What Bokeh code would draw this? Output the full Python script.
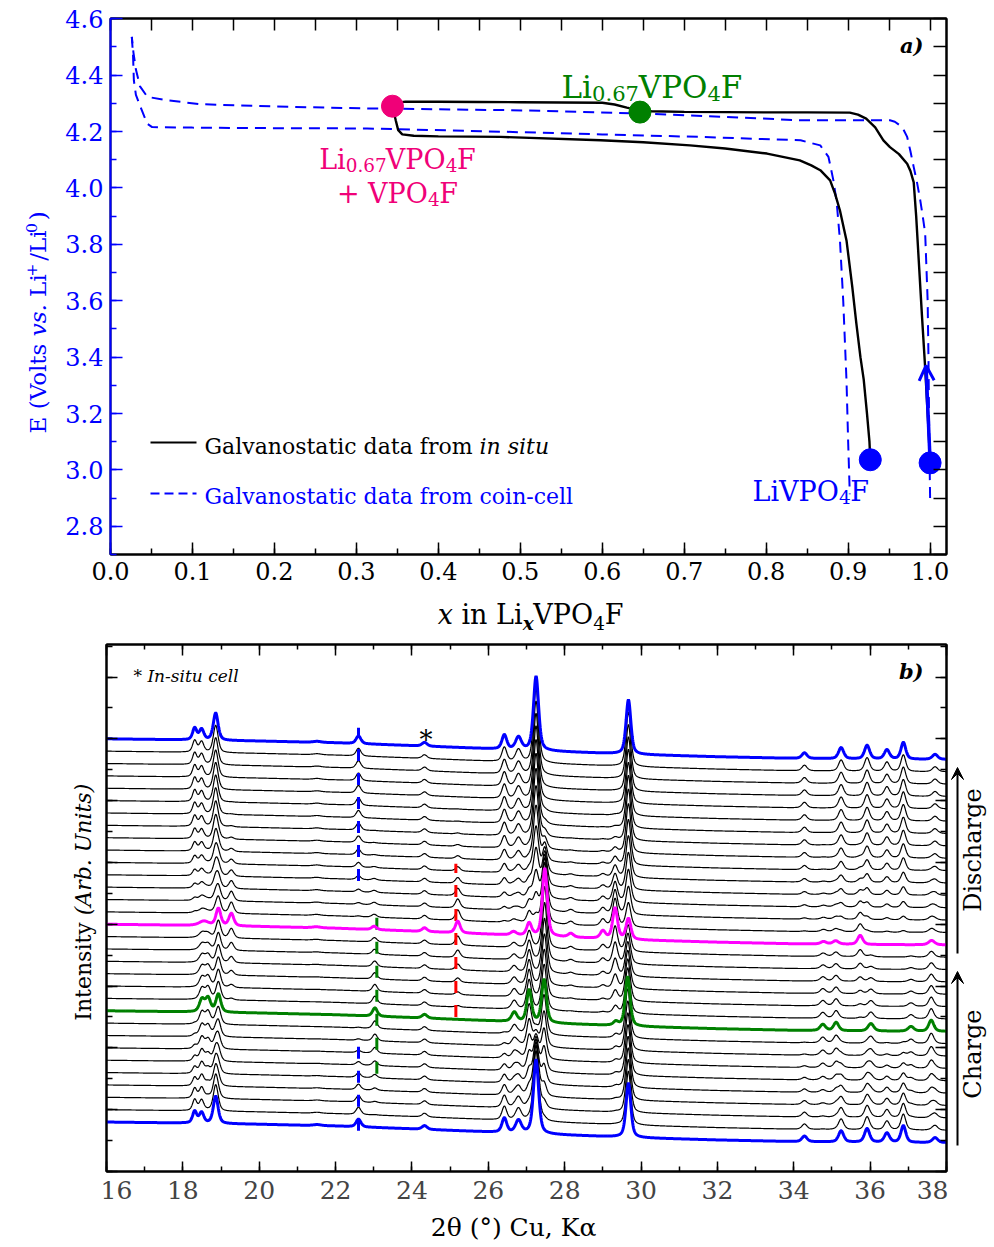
import os, glob
import numpy as np
from bokeh.plotting import figure
from bokeh.layouts import column, row
from bokeh.models import (Label, Arrow, OpenHead, VeeHead, LinearAxis, SingleIntervalTicker,
                          PrintfTickFormatter, CustomJSTickFormatter, Range1d)
from bokeh.embed import file_html
from bokeh.resources import INLINE

# ---------------- Panel a: galvanostatic curves ----------------
insitu_charge_x = [1.000, 0.997, 0.994, 0.990, 0.986, 0.983, 0.980, 0.976, 0.972, 0.962, 0.951,
                   0.943, 0.933, 0.922, 0.912, 0.902, 0.850, 0.800, 0.750, 0.700, 0.660, 0.646,
                   0.630, 0.615, 0.600, 0.550, 0.500, 0.450, 0.400, 0.360, 0.350, 0.344]
insitu_charge_E = [3.03, 3.20, 3.36, 3.55, 3.75, 3.90, 4.02, 4.06, 4.086, 4.120, 4.145,
                   4.169, 4.215, 4.246, 4.260, 4.267, 4.268, 4.268, 4.269, 4.270, 4.272, 4.274,
                   4.285, 4.296, 4.302, 4.303, 4.304, 4.305, 4.306, 4.306, 4.302, 4.290]
insitu_dis_x = [0.344, 0.348, 0.351, 0.356, 0.370, 0.400, 0.476, 0.598, 0.650, 0.707, 0.750,
                0.801, 0.841, 0.855, 0.866, 0.878, 0.884, 0.890, 0.898, 0.905, 0.910, 0.915,
                0.919, 0.923, 0.926, 0.927]
insitu_dis_E = [4.290, 4.240, 4.205, 4.190, 4.185, 4.183, 4.181, 4.169, 4.162, 4.151, 4.140,
                4.122, 4.098, 4.080, 4.063, 4.027, 3.980, 3.920, 3.814, 3.650, 3.520, 3.400,
                3.320, 3.200, 3.100, 3.036]
coin_charge_x = [1.000, 0.999, 0.998, 0.997, 0.994, 0.991, 0.988, 0.984, 0.980, 0.976, 0.972,
                 0.967, 0.963, 0.957, 0.951, 0.900, 0.842, 0.750, 0.646, 0.550, 0.484, 0.400,
                 0.313, 0.200, 0.110, 0.069, 0.045, 0.036, 0.031, 0.028, 0.026]
coin_charge_E = [2.90, 3.10, 3.40, 3.60, 3.838, 3.90, 3.956, 4.02, 4.074, 4.13, 4.181,
                 4.21, 4.222, 4.235, 4.240, 4.240, 4.240, 4.252, 4.264, 4.272, 4.276, 4.279,
                 4.282, 4.289, 4.297, 4.311, 4.323, 4.36, 4.42, 4.48, 4.536]
coin_dis_x = [0.026, 0.0275, 0.0285, 0.031, 0.0366, 0.0447, 0.0508, 0.100, 0.200, 0.313, 0.484,
              0.600, 0.720, 0.842, 0.866, 0.876, 0.882, 0.886, 0.890, 0.894, 0.898, 0.900, 0.902]
coin_dis_E = [4.536, 4.47, 4.382, 4.33, 4.287, 4.228, 4.216, 4.214, 4.212, 4.211, 4.199,
              4.190, 4.181, 4.169, 4.151, 4.110, 4.027, 3.95, 3.814, 3.60, 3.316, 3.10, 2.914]
dot_x = [0.344, 0.646, 0.927, 1.000]
dot_E = [4.290, 4.269, 3.036, 3.025]
dot_color = ["#F00078", "#008000", "#0000FF", "#0000FF"]
arrow_x = [1.000, 0.995]
arrow_E = [3.03, 3.37]

# ---------------- Panel b: in situ XRD (peak tables) ----------------
L_pos = [18.31, 18.49, 18.86, 21.52, 22.60, 26.42, 26.79, 27.25, 29.67, 34.28, 35.24, 35.92, 36.44, 36.87, 37.70]
L_h   = [0.95, 0.85, 2.2, 0.08, 0.62, 1.15, 1.0, 6.0, 4.4, 0.45, 0.9, 1.1, 0.75, 1.35, 0.4]
L_w   = [0.13, 0.14, 0.15, 0.25, 0.15, 0.15, 0.18, 0.16, 0.15, 0.16, 0.16, 0.16, 0.16, 0.15, 0.17]
I_pos = [18.50, 18.66, 18.93, 23.03, 26.68, 27.07, 27.46, 29.34, 29.65, 34.76, 35.11, 36.02, 37.07, 37.60]
I_h   = [1.0, 1.1, 1.45, 0.67, 0.75, 2.6, 3.5, 0.3, 4.0, 0.5, 0.67, 0.6, 0.38, 0.9]
I_w   = [0.16, 0.16, 0.15, 0.15, 0.17, 0.15, 0.15, 0.15, 0.15, 0.17, 0.16, 0.18, 0.18, 0.16]
V_pos = [18.55, 18.93, 19.27, 21.50, 23.01, 25.20, 26.66, 27.07, 27.48, 28.16, 29.00, 29.32, 29.67,
         34.78, 35.10, 35.74, 37.61]
V_h   = [0.35, 1.4, 1.0, 0.08, 0.27, 0.95, 0.27, 1.0, 5.5, 0.3, 0.6, 2.5, 1.67, 0.2, 0.27, 0.73, 0.35]
V_w   = [0.30, 0.15, 0.15, 0.25, 0.16, 0.15, 0.17, 0.15, 0.15, 0.17, 0.16, 0.15, 0.15, 0.18, 0.18, 0.16, 0.19]
cell_pos = [24.33]
cell_h = [0.3]
cell_w = [0.16]
bg_tt  = [16, 18, 20, 22, 24, 26, 28, 30, 32, 34, 36, 38]
bg_off = [0.0, -0.08, -0.18, -0.32, -0.55, -0.80, -1.05, -1.28, -1.45, -1.58, -1.64, -1.67]
# phase fractions for the 32 scans (0 = pristine, 16 = end of charge, 31 = end of discharge)
wL = [1, .95, .85, .72, .58, .44, .30, .18, .08, 0, 0, 0, 0, 0, 0, 0, 0,
      .10, .22, .36, .50, .63, .75, .85, .92, .96, .98, 1, 1, 1, 1, 1]
wI = [0, .05, .15, .28, .42, .56, .70, .82, .92, 1, .88, .76, .63, .50, .36, .22,
      0, 0, 0, 0, 0, 0, 0, 0, 0, 0, 0, 0, 0, 0, 0, 0]
wV = [0, 0, 0, 0, 0, 0, 0, 0, 0, 0, .12, .24, .37, .50, .64, .78, 1,
      .90, .78, .64, .50, .37, .25, .15, .08, .04, .02, 0, 0, 0, 0, 0]
highlight = {0: "#0000FF", 9: "#008000", 16: "#FF00FF", 31: "#0000FF"}
mk_tt = [22.60, 22.60, 23.08, 25.15]
mk_y0 = [23.5, 3.3, 7.9, 12.5]
mk_y1 = [35.9, 10.1, 20.6, 24.9]
mk_color = ["#0000FF", "#0000FF", "#008000", "#FF0000"]

FONT = "DejaVu Serif"
BASE_FIX = 0.35   # label anchor -> alphabetic baseline correction (em)

# ---------- text measurement (for composite labels with italics / sub- and superscripts) ----------
def _find(name):
    for root in ("/usr/share/fonts", "/usr/local/share/fonts"):
        hits = glob.glob(os.path.join(root, "**", name), recursive=True)
        if hits:
            return hits[0]
    return None

try:
    from PIL import ImageFont
    _reg = _find("DejaVuSerif.ttf")
    _PATHS = {"n": _reg, "i": _find("DejaVuSerif-Italic.ttf") or _reg,
              "bi": _find("DejaVuSerif-BoldItalic.ttf") or _find("DejaVuSerif-Bold.ttf") or _reg}
except Exception:
    ImageFont = None
    _PATHS = {}


def text_width(s, size, style="n"):
    if not s:
        return 0.0
    path = _PATHS.get(style)
    if ImageFont is not None and path:
        try:
            return ImageFont.truetype(path, max(1, int(round(size)))).getlength(s)
        except Exception:
            pass
    return 0.6 * size * len(s)


def rich(p, conv, px, py, pieces, size, color, align="left", vertical=False,
         sub_shift=0.10, sup_shift=0.42, small=0.68):
    items = []
    for txt, kind in pieces:
        sm = kind.startswith("sub") or kind.startswith("sup")
        s = size * small if sm else size
        style = "bi" if kind.endswith("bi") else ("i" if kind.endswith("i") else "n")
        core = txt.strip(" ")
        lead = txt[:len(txt) - len(txt.lstrip(" "))]
        trail = txt[len(txt.rstrip(" ")):]
        items.append((core, kind, s, style, text_width(lead, s, style),
                      text_width(core, s, style), text_width(trail, s, style)))
    total = sum(i[4] + i[5] + i[6] for i in items)
    pos = {"left": 0.0, "center": -total / 2.0, "right": -total}[align]
    fstyle = {"n": "normal", "i": "italic", "bi": "bold italic"}
    for core, kind, s, style, wl, wc, wt in items:
        pos += wl
        shift = 0.0
        if kind.startswith("sub"):
            shift = -sub_shift * size
        elif kind.startswith("sup"):
            shift = sup_shift * size
        if vertical:
            X = px - shift - BASE_FIX * s
            Y = py - (pos + wc / 2.0) - BASE_FIX * s
            t_align = "center"
        else:
            X, Y = px + pos, py - shift - BASE_FIX * s
            t_align = "left"
        p.add_layout(Label(x=conv[0](X), y=conv[1](Y), text=core, text_font=FONT,
                           text_font_size=f"{s:.1f}px", text_font_style=fstyle[style],
                           text_color=color, text_baseline="alphabetic", text_align=t_align,
                           angle=(np.pi / 2 if vertical else 0.0)))
        pos += wc + wt


def hidden_axis(ticker, tick_len, color="black", minor_len=0):
    return LinearAxis(ticker=ticker, major_tick_in=tick_len, major_tick_out=0,
                      minor_tick_in=minor_len, minor_tick_out=0,
                      major_label_text_font_size="0px", major_label_standoff=0,
                      formatter=CustomJSTickFormatter(code="return ''"),
                      axis_line_color=color, major_tick_line_color=color,
                      minor_tick_line_color=color if minor_len else None,
                      axis_line_width=2, major_tick_line_width=1.5, minor_tick_line_width=1.5)


def helper(w, h, x0, y0):
    f = figure(frame_width=w, frame_height=h, x_range=Range1d(0, w), y_range=Range1d(h, 0),
               output_backend="svg", toolbar_location=None, x_axis_location=None,
               y_axis_location=None, min_border_left=0, min_border_right=0,
               min_border_top=0, min_border_bottom=0, outline_line_color=None)
    f.xgrid.visible = False
    f.ygrid.visible = False
    return f, (lambda px: px - x0, lambda py: py - y0)

# ======================= Panel a =======================
A_FW, A_FH = 836, 536
A_XR, A_YR = (0.0, 1.02), (2.7, 4.601)
pa = figure(frame_width=A_FW, frame_height=A_FH, x_range=Range1d(*A_XR), y_range=Range1d(*A_YR),
            output_backend="svg", toolbar_location=None,
            min_border_left=50, min_border_right=48, min_border_top=18, min_border_bottom=40)
pa.xgrid.visible = False
pa.ygrid.visible = False
pa.outline_line_color = "black"
pa.outline_line_width = 2
ax_conv = (lambda px: A_XR[0] + (px - 110) * (A_XR[1] - A_XR[0]) / A_FW,
           lambda py: A_YR[1] - (py - 18) * (A_YR[1] - A_YR[0]) / A_FH)

xa = pa.xaxis[0]
xa.ticker = SingleIntervalTicker(interval=0.1, num_minor_ticks=2)
xa.formatter = PrintfTickFormatter(format="%.1f")
ya = pa.yaxis[0]
ya.ticker = SingleIntervalTicker(interval=0.2, num_minor_ticks=2)
ya.formatter = PrintfTickFormatter(format="%.1f")
for a in (xa, ya):
    a.major_tick_in = 12
    a.major_tick_out = 0
    a.minor_tick_in = 6
    a.minor_tick_out = 0
    a.major_label_text_font = FONT
    a.major_label_text_font_size = "24px"
    a.major_label_standoff = 7
    a.axis_line_width = 2
    a.major_tick_line_width = 1.5
    a.minor_tick_line_width = 1.5
ya.axis_line_color = "#0000FF"
ya.major_tick_line_color = "#0000FF"
ya.minor_tick_line_color = "#0000FF"
ya.major_label_text_color = "#0000FF"
xa.major_label_text_color = "black"
pa.add_layout(hidden_axis(SingleIntervalTicker(interval=0.05, num_minor_ticks=0), 12), "above")
pa.add_layout(hidden_axis(SingleIntervalTicker(interval=0.1, num_minor_ticks=0), 13), "right")

pa.line(coin_charge_x, coin_charge_E, line_color="#0000FF", line_width=2, line_dash="11 7")
pa.line(coin_dis_x, coin_dis_E, line_color="#0000FF", line_width=2, line_dash="11 7")
pa.line(insitu_charge_x, insitu_charge_E, line_color="black", line_width=2.4)
pa.line(insitu_dis_x, insitu_dis_E, line_color="black", line_width=2.4)
pa.add_layout(Arrow(end=OpenHead(size=15, line_color="#0000FF", line_width=3),
                    x_start=arrow_x[0], y_start=arrow_E[0], x_end=arrow_x[1], y_end=arrow_E[1],
                    line_color="#0000FF", line_width=3.5))
pa.scatter(dot_x, dot_E, size=22, fill_color=dot_color, line_color=dot_color)

# legend
pa.segment(x0=[ax_conv[0](150)], y0=[ax_conv[1](442)], x1=[ax_conv[0](196)], y1=[ax_conv[1](442)],
           line_color="black", line_width=2)
pa.segment(x0=[ax_conv[0](150)], y0=[ax_conv[1](493)], x1=[ax_conv[0](196)], y1=[ax_conv[1](493)],
           line_color="#0000FF", line_width=2, line_dash="9 5")
rich(pa, ax_conv, 204, 454, [("Galvanostatic data from ", "n"), ("in situ", "i")], 22, "black")
rich(pa, ax_conv, 204, 504, [("Galvanostatic data from coin-cell", "n")], 22, "#0000FF")

# phase labels
rich(pa, ax_conv, 561, 97, [("Li", "n"), ("0.67", "sub"), ("VPO", "n"), ("4", "sub"), ("F", "n")],
     31, "#008000")
rich(pa, ax_conv, 397, 168, [("Li", "n"), ("0.67", "sub"), ("VPO", "n"), ("4", "sub"), ("F", "n")],
     27, "#F00078", align="center")
rich(pa, ax_conv, 397, 202, [("+ VPO", "n"), ("4", "sub"), ("F", "n")], 27, "#F00078", align="center")
rich(pa, ax_conv, 752, 500, [("LiVPO", "n"), ("4", "sub"), ("F", "n")], 27, "#0000FF")
rich(pa, ax_conv, 923, 52, [("a)", "bi")], 21, "black", align="right")

# axis titles of panel a (in side strips)
ya_fig, ya_conv = helper(60, 18 + A_FH + 40, 0, 0)
rich(ya_fig, ya_conv, 46, 423, [("E (Volts ", "n"), ("vs.", "i"), (" Li", "n"), ("+", "sup"),
                                ("/Li", "n"), ("0", "sup"), (")", "n")], 23, "#0000FF", vertical=True)
xa_fig, xa_conv = helper(994, 42, 0, 18 + A_FH + 40)
rich(xa_fig, xa_conv, 530, 623, [("x", "i"), (" in Li", "n"), ("x", "subi"), ("VPO", "n"),
                                 ("4", "sub"), ("F", "n")], 27, "black", align="center", sub_shift=0.22)

# ======================= Panel b =======================
B_FW, B_FH = 840, 527
B_XR, B_YR = (16.0, 38.0), (0.0, 42.63)
YB_W = 100
pb = figure(frame_width=B_FW, frame_height=B_FH, x_range=Range1d(*B_XR), y_range=Range1d(*B_YR),
            output_backend="svg", toolbar_location=None,
            min_border_left=106 - YB_W, min_border_right=2, min_border_top=8, min_border_bottom=42)
pb.xgrid.visible = False
pb.ygrid.visible = False
pb.outline_line_color = "black"
pb.outline_line_width = 2
bx_conv = (lambda px: B_XR[0] + (px - 106) * (B_XR[1] - B_XR[0]) / B_FW,
           lambda py: B_YR[0] + (1171 - py) * (B_YR[1] - B_YR[0]) / B_FH)

xb = pb.xaxis[0]
xb.ticker = SingleIntervalTicker(interval=2, num_minor_ticks=2)
xb.formatter = PrintfTickFormatter(format="%d")
xb.major_tick_in = 10
xb.major_tick_out = 0
xb.minor_tick_in = 5
xb.minor_tick_out = 0
xb.major_label_text_font = FONT
xb.major_label_text_font_size = "25px"
xb.major_label_standoff = 9
xb.axis_line_width = 2
xb.major_tick_line_width = 1.5
xb.minor_tick_line_width = 1.5
pb.yaxis.visible = False
pb.add_layout(hidden_axis(SingleIntervalTicker(interval=5, num_minor_ticks=2), 11, minor_len=6), "left")
pb.add_layout(hidden_axis(SingleIntervalTicker(interval=2, num_minor_ticks=2), 11, minor_len=5), "above")
pb.add_layout(hidden_axis(SingleIntervalTicker(interval=5, num_minor_ticks=2), 11, minor_len=6), "right")

tt = np.arange(16.0, 38.0001, 0.01)


def pattern(pos, h, w, eta=0.5):
    y = np.zeros_like(tt)
    for p0, h0, w0 in zip(pos, h, w):
        d = (tt - p0) / w0
        y += h0 * (eta / (1 + 4 * d * d) + (1 - eta) * np.exp(-4 * np.log(2) * d * d))
    return y


patL = pattern(L_pos, L_h, L_w)
patI = pattern(I_pos, I_h, I_w)
patV = pattern(V_pos, V_h, V_w)
patC = pattern(cell_pos, cell_h, cell_w)
bg = np.interp(tt, bg_tt, bg_off)
scans = [4 + i + bg + wL[i] * patL + wI[i] * patI + wV[i] * patV + patC for i in range(len(wL))]

black_idx = [i for i in range(len(scans)) if i not in highlight]
pb.multi_line([tt] * len(black_idx), [scans[i] for i in black_idx], line_color="black", line_width=1.2)
pb.segment(x0=mk_tt, y0=mk_y0, x1=mk_tt, y1=mk_y1, line_color=mk_color, line_width=3, line_dash="12 12")
for i, c in highlight.items():
    pb.line(tt, scans[i], line_color=c, line_width=3)

rich(pb, bx_conv, 133, 681, [("* In-situ cell", "i")], 17, "black")
rich(pb, bx_conv, 923, 678, [("b)", "bi")], 21, "black", align="right")
rich(pb, bx_conv, 106 + (cell_pos[0] + 0.04 - 16) * B_FW / 22.0, 749, [("*", "n")], 26, "black",
     align="center")

# left / right / bottom strips of panel b
HB = 8 + B_FH + 42
yb_fig, yb_conv = helper(YB_W, HB, 0, 636)
rich(yb_fig, yb_conv, 91, 1020, [("Intensity ", "n"), ("(Arb. Units)", "i")], 22, "black", vertical=True)
RB_W = 994 - YB_W - ((106 - YB_W) + B_FW + 2)
rb_fig, rb_conv = helper(RB_W, HB, 994 - RB_W, 636)
for y_start, y_end in ((1137, 963), (945, 759)):
    rb_fig.add_layout(Arrow(end=VeeHead(size=12, fill_color="black", line_color="black"),
                            x_start=rb_conv[0](957), y_start=rb_conv[1](y_start),
                            x_end=rb_conv[0](957), y_end=rb_conv[1](y_end),
                            line_color="black", line_width=2))
rich(rb_fig, rb_conv, 981, 850, [("Discharge", "n")], 24, "black", align="center", vertical=True)
rich(rb_fig, rb_conv, 981, 1054, [("Charge", "n")], 24, "black", align="center", vertical=True)
xb_fig, xb_conv = helper(994, 30, 0, 636 + HB)
rich(xb_fig, xb_conv, 513, 1236, [("2θ (°) Cu, Kα", "n")], 25, "black", align="center")

layout = column(row(ya_fig, pa, spacing=0), xa_fig,
                row(yb_fig, pb, rb_fig, spacing=0), xb_fig, spacing=0)
open("out.html", "w").write(file_html(layout, INLINE))
